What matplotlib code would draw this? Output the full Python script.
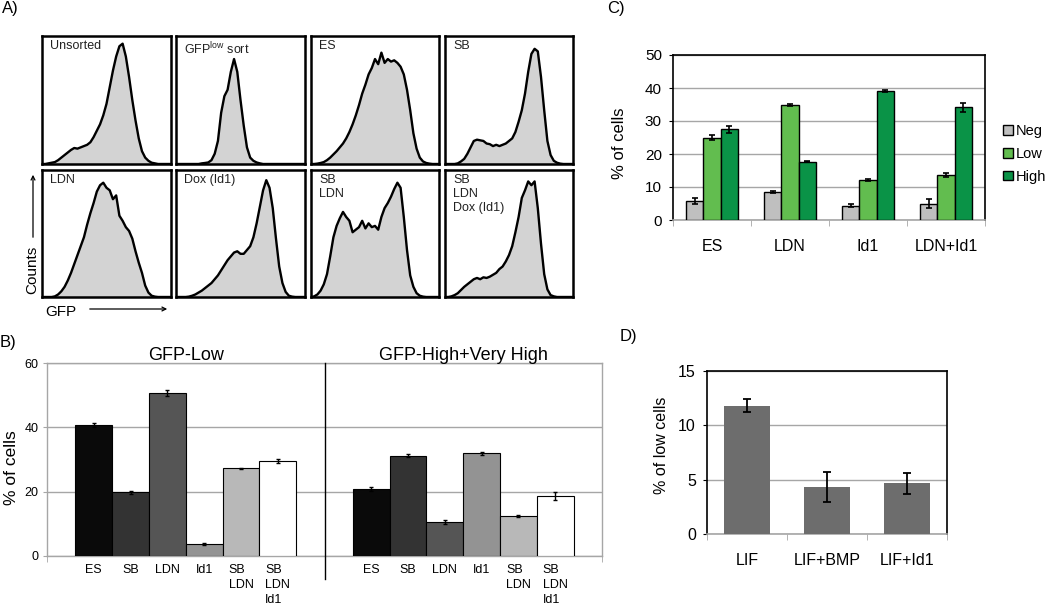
import matplotlib
matplotlib.use('Agg')
import matplotlib.pyplot as plt
import numpy as np

plt.rcParams['font.family'] = ['Liberation Sans', 'DejaVu Sans']

W, H = 1050, 607

# ---- A) flow histograms, height as a fraction of the box
histGrid = np.linspace(0, 1, 41)
histLabels = ['Unsorted', r'GFP$^{\mathregular{low}}$ sort', 'ES', 'SB',
              'LDN', 'Dox (Id1)', 'SB\nLDN', 'SB\nLDN\nDox (Id1)']
unsorted = [0, 0, 0.005, 0.01, 0.015, 0.03, 0.05, 0.07, 0.09, 0.11, 0.125,
            0.12, 0.13, 0.14, 0.15, 0.17, 0.21, 0.26, 0.31, 0.38, 0.47,
            0.60, 0.73, 0.84, 0.92, 0.94, 0.84, 0.68, 0.50, 0.34, 0.20,
            0.10, 0.05, 0.025, 0.01, 0.005, 0, 0, 0, 0, 0]
gfpLowSort = [0, 0, 0, 0, 0, 0, 0, 0, 0.005, 0.008, 0.012,
              0.03, 0.08, 0.18, 0.40, 0.53, 0.58, 0.72, 0.82, 0.72, 0.50,
              0.30, 0.13, 0.05, 0.025, 0.012, 0.005, 0, 0, 0, 0,
              0, 0, 0, 0, 0, 0, 0, 0, 0, 0]
esHist = [0, 0, 0.003, 0.008, 0.015, 0.03, 0.05, 0.075, 0.10, 0.13, 0.16,
          0.20, 0.25, 0.31, 0.38, 0.46, 0.55, 0.62, 0.70, 0.75, 0.82,
          0.78, 0.87, 0.79, 0.82, 0.80, 0.81, 0.79, 0.76, 0.70, 0.58,
          0.42, 0.24, 0.12, 0.05, 0.02, 0.008, 0.003, 0, 0, 0]
sbHist = [0, 0, 0, 0, 0.005, 0.02, 0.04, 0.08, 0.13, 0.18, 0.19,
          0.185, 0.18, 0.16, 0.155, 0.14, 0.15, 0.14, 0.15, 0.16, 0.18,
          0.20, 0.25, 0.33, 0.42, 0.55, 0.72, 0.86, 0.90, 0.88, 0.68,
          0.42, 0.18, 0.07, 0.025, 0.01, 0.003, 0, 0, 0, 0]
ldnHist = [0, 0, 0, 0, 0.005, 0.02, 0.045, 0.08, 0.13, 0.19, 0.26,
           0.33, 0.40, 0.47, 0.57, 0.66, 0.74, 0.83, 0.88, 0.90, 0.86,
           0.84, 0.77, 0.80, 0.64, 0.60, 0.55, 0.52, 0.46, 0.36, 0.27,
           0.19, 0.09, 0.035, 0.01, 0.003, 0, 0, 0, 0, 0]
doxHist = [0, 0, 0, 0, 0.003, 0.01, 0.02, 0.035, 0.05, 0.07, 0.09,
           0.11, 0.14, 0.17, 0.21, 0.25, 0.29, 0.32, 0.35, 0.36, 0.34,
           0.34, 0.37, 0.40, 0.47, 0.58, 0.71, 0.84, 0.92, 0.86, 0.70,
           0.46, 0.24, 0.11, 0.04, 0.01, 0.003, 0, 0, 0, 0]
sbLdnHist = [0, 0.005, 0.02, 0.05, 0.10, 0.18, 0.32, 0.47, 0.56, 0.62, 0.67,
             0.63, 0.60, 0.51, 0.53, 0.55, 0.60, 0.54, 0.58, 0.55, 0.56,
             0.53, 0.63, 0.70, 0.74, 0.79, 0.85, 0.90, 0.86, 0.63, 0.37,
             0.17, 0.08, 0.03, 0.01, 0.003, 0, 0, 0, 0, 0]
sbLdnDoxHist = [0, 0, 0.005, 0.015, 0.03, 0.055, 0.08, 0.10, 0.12, 0.14, 0.15,
                0.14, 0.155, 0.15, 0.16, 0.175, 0.19, 0.22, 0.24, 0.28, 0.33,
                0.40, 0.51, 0.63, 0.78, 0.84, 0.91, 0.88, 0.91, 0.70, 0.42,
                0.18, 0.06, 0.015, 0.005, 0, 0, 0, 0, 0, 0]

# ---- B) % of cells in GFP-Low and GFP-High+Very High gates
bCategories = ['ES', 'SB', 'LDN', 'Id1', 'SB\nLDN', 'SB\nLDN\nId1']
bGroups = ['GFP-Low', 'GFP-High+Very High']
bLowValues = [40.8, 19.8, 50.6, 3.7, 27.3, 29.5]
bLowErrors = [0.6, 0.5, 0.9, 0.3, 0.2, 0.6]
bHighValues = [20.9, 31.2, 10.7, 31.9, 12.4, 18.6]
bHighErrors = [0.7, 0.5, 0.6, 0.5, 0.2, 1.2]
bColors = ['#0a0a0a', '#333333', '#555555', '#939393', '#b8b8b8', '#ffffff']

# ---- C) Neg / Low / High fractions
cCategories = ['ES', 'LDN', 'Id1', 'LDN+Id1']
cSeries = ['Neg', 'Low', 'High']
cNeg = [5.9, 8.4, 4.3, 5.0]
cNegErr = [0.9, 0.3, 0.4, 1.3]
cLow = [24.9, 34.8, 12.1, 13.6]
cLowErr = [0.8, 0.4, 0.2, 0.7]
cHigh = [27.5, 17.7, 39.1, 34.1]
cHighErr = [1.1, 0.1, 0.3, 1.4]
cColors = ['#bfbfbf', '#62bd4f', '#0a9347']

# ---- D) % of low cells
dCategories = ['LIF', 'LIF+BMP', 'LIF+Id1']
dValues = [11.8, 4.35, 4.65]
dErrors = [0.6, 1.4, 1.0]

GRID = '#a6a6a6'

fig = plt.figure(figsize=(W / 100, H / 100), dpi=100)


def axesFromPixels(x0, y0, x1, y1):
    return fig.add_axes([x0 / W, 1 - y1 / H, (x1 - x0) / W, (y1 - y0) / H])


def figPos(x, y):
    return x / W, 1 - y / H


def plotHistogram(ax, counts, label):
    ax.fill_between(histGrid, counts, 0, color='#d3d3d3', lw=0)
    ax.plot(histGrid, counts, color='k', lw=1.7, solid_joinstyle='round')
    ax.set_xlim(0, 1)
    ax.set_ylim(0, 1)
    ax.set_xticks([])
    ax.set_yticks([])
    for s in ax.spines.values():
        s.set_linewidth(1.8)
    ax.text(0.065, 0.965, label, transform=ax.transAxes, ha='left', va='top',
            fontsize=9, linespacing=1.2, color='#222222')


# panel A
histData = [unsorted, gfpLowSort, esHist, sbHist, ldnHist, doxHist, sbLdnHist, sbLdnDoxHist]
colEdges = [(42, 171), (176, 305), (311, 439), (445, 573)]
rowEdges = [(36, 164), (170, 297)]
for i, counts in enumerate(histData):
    r, c = divmod(i, 4)
    ax = axesFromPixels(colEdges[c][0], rowEdges[r][0], colEdges[c][1], rowEdges[r][1])
    plotHistogram(ax, counts, histLabels[i])

fig.text(*figPos(32, 270), 'Counts', rotation=90, ha='center', va='center', fontsize=11)
fig.text(*figPos(45, 312), 'GFP', ha='left', va='center', fontsize=11)
fig.add_artist(matplotlib.patches.FancyArrowPatch(figPos(33, 240), figPos(33, 172),
                                                  transform=fig.transFigure, arrowstyle='->',
                                                  mutation_scale=7, lw=0.9, color='k'))
fig.add_artist(matplotlib.patches.FancyArrowPatch(figPos(87, 309), figPos(170, 309),
                                                  transform=fig.transFigure, arrowstyle='->',
                                                  mutation_scale=7, lw=0.9, color='k'))

# panel B
ax = axesFromPixels(47, 363, 602, 556)
bw = 0.1326
offsets = (np.arange(len(bCategories)) - 2.5) * bw
allPos = []
for g, (vals, errs) in enumerate([(bLowValues, bLowErrors), (bHighValues, bHighErrors)]):
    pos = g + 0.5 + offsets
    allPos.extend(pos)
    ax.bar(pos, vals, bw, color=bColors, edgecolor='k', lw=0.8, zorder=3,
           yerr=errs, error_kw=dict(ecolor='k', elinewidth=1, capsize=1.5, capthick=1, zorder=4))
    ax.text(g + 0.5, 61, bGroups[g], ha='center', va='baseline', fontsize=13)
ax.set_xlim(0, 2)
ax.set_ylim(0, 60)
ax.set_yticks([0, 20, 40, 60])
ax.yaxis.grid(True, color=GRID, lw=1)
ax.set_axisbelow(True)
for s in ax.spines.values():
    s.set_color(GRID)
    s.set_linewidth(1)
ax.tick_params(axis='y', length=3, color=GRID, labelsize=9, pad=3)
ax.set_xticks(allPos)
ax.set_xticklabels(bCategories * 2)
ax.tick_params(axis='x', which='major', length=0, labelsize=9, pad=6)
for lbl in ax.get_xticklabels():
    lbl.set_multialignment('left')
    lbl.set_linespacing(1.3)
ax.set_xticks([0, 2], minor=True)
ax.tick_params(axis='x', which='minor', length=4, color=GRID)
ax.plot([1, 1], [60, -7], color='k', lw=1, clip_on=False, zorder=5)
fig.text(*figPos(12, 468), '% of cells', rotation=90, ha='center', va='center', fontsize=12.5)

# panel C
ax = axesFromPixels(673, 55, 985, 220)
cw = 0.223
x = np.arange(len(cCategories))
for k, (vals, errs) in enumerate([(cNeg, cNegErr), (cLow, cLowErr), (cHigh, cHighErr)]):
    ax.bar(x + (k - 1) * cw, vals, cw, color=cColors[k], edgecolor='k', lw=1, zorder=3,
           label=cSeries[k], yerr=errs,
           error_kw=dict(ecolor='k', elinewidth=1.2, capsize=2.5, capthick=1.2, zorder=4))
ax.set_xlim(-0.5, len(cCategories) - 0.5)
ax.set_ylim(0, 50)
ax.set_yticks(range(0, 51, 10))
ax.yaxis.grid(True, color=GRID, lw=1)
ax.set_axisbelow(True)
for side in ['top', 'left', 'right']:
    ax.spines[side].set_linewidth(1.2)
ax.spines['bottom'].set_color(GRID)
ax.spines['bottom'].set_linewidth(1.2)
ax.tick_params(axis='y', length=3, labelsize=11, pad=5)
ax.set_xticks(x)
ax.set_xticklabels(cCategories)
ax.tick_params(axis='x', which='major', length=0, labelsize=11.5, pad=14)
ax.set_xticks(np.arange(len(cCategories) + 1) - 0.5, minor=True)
ax.tick_params(axis='x', which='minor', length=4, color=GRID)
ax.legend(loc='center left', bbox_to_anchor=(1.058, 0.40), frameon=False, fontsize=10.5,
          handlelength=0.65, handleheight=0.65, handletextpad=0.25, labelspacing=0.6,
          borderpad=0, borderaxespad=0)
fig.text(*figPos(620, 143), '% of cells', rotation=90, ha='center', va='center', fontsize=12)

# panel D
ax = axesFromPixels(707, 371, 947, 534)
x = np.arange(len(dCategories))
ax.bar(x, dValues, 0.57, color='#6d6d6d', zorder=3, yerr=dErrors,
       error_kw=dict(ecolor='k', elinewidth=1.3, capsize=3, capthick=1.3, zorder=4))
ax.set_xlim(-0.5, len(dCategories) - 0.5)
ax.set_ylim(0, 15)
ax.set_yticks([0, 5, 10, 15])
ax.yaxis.grid(True, color=GRID, lw=1)
ax.set_axisbelow(True)
for side in ['top', 'left', 'right']:
    ax.spines[side].set_linewidth(1.2)
ax.spines['bottom'].set_color(GRID)
ax.spines['bottom'].set_linewidth(1.2)
ax.tick_params(axis='y', length=3, labelsize=11.5, pad=5)
ax.set_xticks(x)
ax.set_xticklabels(dCategories)
ax.tick_params(axis='x', which='major', length=0, labelsize=11.5, pad=14)
ax.set_xticks(np.arange(len(dCategories) + 1) - 0.5, minor=True)
ax.tick_params(axis='x', which='minor', length=4, color=GRID)
fig.text(*figPos(661, 445), '% of low cells', rotation=90, ha='center', va='center', fontsize=11.5)

# panel letters
fig.text(*figPos(2, 9), 'A)', ha='left', va='center', fontsize=12)
fig.text(*figPos(0, 342), 'B)', ha='left', va='center', fontsize=12)
fig.text(*figPos(607, 9), 'C)', ha='left', va='center', fontsize=12)
fig.text(*figPos(620, 337), 'D)', ha='left', va='center', fontsize=12)

fig.savefig('out.png', dpi=100)
